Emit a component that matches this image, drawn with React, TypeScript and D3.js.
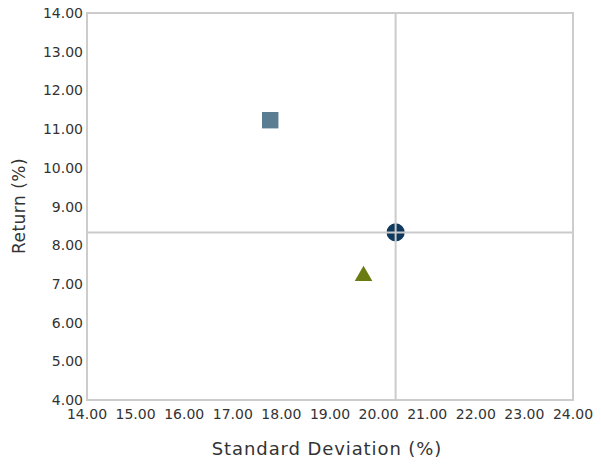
import React from "react";
import * as d3 from "d3";

const xTicks = [14, 15, 16, 17, 18, 19, 20, 21, 22, 23, 24];
const yTicks = [4, 5, 6, 7, 8, 9, 10, 11, 12, 13, 14];
const pointNames = ["Fund", "Benchmark", "Peer"];
const pointX = [17.77, 20.35, 19.69];
const pointY = [11.23, 8.33, 7.23];
const pointShapes = ["square", "circle", "triangle"];
const pointColors = ["#5b7d92", "#0f3a5e", "#6a7b12"];
const crossX = 20.35;
const crossY = 8.33;

export default function App() {
  const W = 601, H = 464;
  const left = 87, right = 573, top = 13, bottom = 400;
  const x = d3.scaleLinear().domain([14, 24]).range([left, right]);
  const y = d3.scaleLinear().domain([4, 14]).range([bottom, top]);
  const font = "'DejaVu Sans', sans-serif";
  const sym = (s: string) => {
    const t = s === "square" ? d3.symbolSquare : s === "circle" ? d3.symbolCircle : d3.symbolTriangle;
    const size = s === "square" ? 270 : s === "circle" ? 260 : 135;
    return d3.symbol(t, size)() as string;
  };
  return (
    <svg width={W} height={H} style={{ position: "absolute", left: 0, top: 0 }}>
      <rect x={0} y={0} width={W} height={H} fill="#fff" />
      <rect x={left} y={top} width={right - left} height={bottom - top} fill="none" stroke="#cccccc" strokeWidth={2} />
      {yTicks.map((t) => (
        <text key={"y" + t} x={left - 4} y={y(t) + 5} textAnchor="end" fontFamily={font} fontSize={14} fill="#333">
          {t.toFixed(2)}
        </text>
      ))}
      {xTicks.map((t) => (
        <text key={"x" + t} x={x(t)} y={y(4) + 19} textAnchor="middle" fontFamily={font} fontSize={14} fill="#333">
          {t.toFixed(2)}
        </text>
      ))}
      {pointNames.map((n, i) => (
        <path key={n} d={sym(pointShapes[i])} transform={`translate(${x(pointX[i])},${y(pointY[i]) + (pointShapes[i] === "triangle" ? 1 : 0)})`} fill={pointColors[i]} />
      ))}
      <line x1={x(crossX)} x2={x(crossX)} y1={top} y2={bottom} stroke="#cbcbcb" strokeWidth={2} />
      <line x1={left} x2={right} y1={y(crossY)} y2={y(crossY)} stroke="#cbcbcb" strokeWidth={2} />
      <text x={327} y={455} textAnchor="middle" fontFamily={font} fontSize={18} letterSpacing={0.9} fill="#333">
        Standard Deviation (%)
      </text>
      <text transform={`translate(25,206) rotate(-90)`} textAnchor="middle" fontFamily={font} fontSize={17} letterSpacing={0.5} fill="#333">
        Return (%)
      </text>
    </svg>
  );
}
